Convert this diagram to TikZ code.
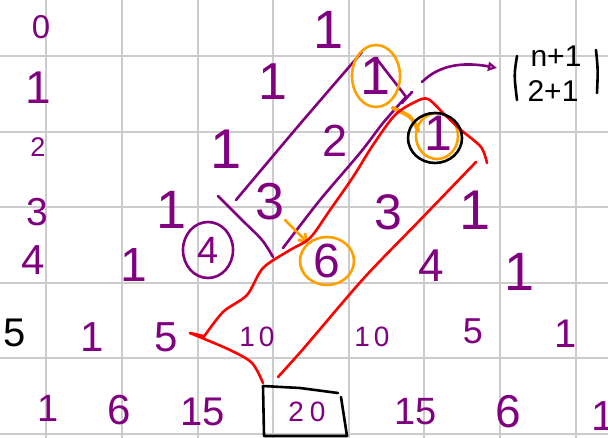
\documentclass[tikz,border=0pt]{standalone}
\usepackage{fontspec}
\setmainfont{Liberation Sans}
\usetikzlibrary{arrows.meta}
\definecolor{pp}{HTML}{800080}
\definecolor{og}{HTML}{FFA000}
\definecolor{rd}{HTML}{FF0000}
\definecolor{gr}{HTML}{CCCCCC}
\begin{document}
\begin{tikzpicture}[x=1pt,y=-1pt,
  num/.style={text=pp, inner sep=0pt, font=\fontsize{#1}{#1}\selectfont},
  blk/.style={text=black, inner sep=0pt, font=\fontsize{#1}{#1}\selectfont},
  gridline/.style={gr, line width=2pt},
  pen/.style={line width=2.6pt, line cap=round, line join=round},
  ppen/.style={pen, pp},
  open/.style={pen, og},
  rpen/.style={pen, rd},
  kpen/.style={pen, black}]
\useasboundingbox (0,0) rectangle (608,438);
\clip (0,0) rectangle (608,438);
% grid
\foreach \x in {46,122,198,273,349,424,500,576} \draw[gridline] (\x,0) -- (\x,438);
\foreach \y in {56,132,207,283,358,434} \draw[gridline] (0,\y) -- (608,\y);
% row labels
\node[num=33] (l0) at (41,27) {0};
\node[num=46] (l1) at (38,88) {1};
\node[num=27] (l2) at (38,147) {2};
\node[num=39] (l3) at (37,212) {3};
\node[num=42] (l4) at (33,260) {4};
\node[blk=40] (l5) at (15,333) {5};
% triangle
\node[num=54] (r0) at (329,30) {1};
\node[num=52] (r1a) at (273,82) {1};
\node[num=54] (r1b) at (376,76) {1};
\node[num=56] (r2a) at (226,149) {1};
\node[num=45] (r2b) at (335,141) {2};
\node[num=50] (r2c) at (438,133) {1};
\node[num=54] (r3a) at (172,210) {1};
\node[num=52] (r3b) at (270,202) {3};
\node[num=50] (r3c) at (388,212) {3};
\node[num=56] (r3d) at (475,210) {1};
\node[num=48] (r4a) at (134,265) {1};
\node[num=38] (r4b) at (208,250) {4};
\node[num=48] (r4c) at (327,261) {6};
\node[num=46] (r4d) at (431,266) {4};
\node[num=54] (r4e) at (520,272) {1};
\node[num=42] (r5a) at (92,337) {1};
\node[num=42] (r5b) at (166,337) {5};
\node[num=28] (r5c) at (257,337) {1\kern4pt0};
\node[num=28] (r5d) at (372,337) {1\kern4pt0};
\node[num=36] (r5e) at (473,331) {5};
\node[num=40] (r5f) at (566,334) {1};
\node[num=38] (r6a) at (48,408) {1};
\node[num=42] (r6b) at (119,410) {6};
\node[num=40] (r6c) at (203,412) {15};
\node[num=28] (r6d) at (307,412) {2\kern6pt0};
\node[num=38] (r6e) at (416,412) {15};
\node[num=46] (r6f) at (508,412) {6};
\node[num=42] (r6g) at (603,416) {1};
% binomial
\node[blk=30] (bt) at (556,56) {n+1};
\node[blk=30] (bb) at (553,91) {2+1};
\draw[kpen] (517,56) .. controls (514,75) .. (517,100);
\draw[kpen] (596,50) .. controls (598,70) .. (597,93);
% purple strokes
\draw[ppen] plot[smooth] coordinates {(236,200) (300,124) (362,52)};
\draw[ppen] plot[smooth] coordinates {(218,196) (242,220) (262,240) (273,257)};
\draw[ppen] (376,58) -- (407,98);
\draw[ppen] (402,103) -- (412,92);
\draw[ppen] plot[smooth] coordinates {(405,98) (383,123) (360,153) (320,200) (283,248)};
\draw[ppen] (r4b) ellipse [x radius=25, y radius=28];
\coordinate (aS) at (422,82);
\coordinate (aE) at (497,68);
\draw[ppen, -{Triangle[open,length=9pt,width=9pt]}] (aS) .. controls (440,64) and (465,62) .. (aE);
% orange strokes
\draw[open] (r1b) ellipse [x radius=24, y radius=31];
\draw[open] (r4c) ellipse [x radius=27, y radius=24];
\draw[open] (437,136) ellipse [x radius=21, y radius=23];
\draw[open, line width=4pt] plot[smooth] coordinates {(393,108) (410,117) (418,130)};
\draw[open, -{Straight Barb[length=7pt,width=10pt]}] (285,220) -- (308,243);
% red outline
\draw[rpen] plot[smooth] coordinates {(263,383) (252,363) (230,350) (190,333)};
\draw[rpen] (190,333) -- (203,336);
\draw[rpen] plot[smooth] coordinates {(203,338) (223,312) (247,295) (263,268) (290,250) (310,238) (330,210) (353,177) (373,145) (395,115) (415,102) (428,99) (445,115) (461,130) (481,147) (487,163)};
\draw[rpen] plot[smooth] coordinates {(476,162) (422,218) (364,278) (304,348) (278,377)};
% black marks
\draw[kpen] (435,138) ellipse [x radius=27, y radius=25];
\draw[kpen] (264,435) -- (263,386) -- (300,388) -- (338,393) (341,397) -- (347,436) -- (264,436);
\end{tikzpicture}
\end{document}
